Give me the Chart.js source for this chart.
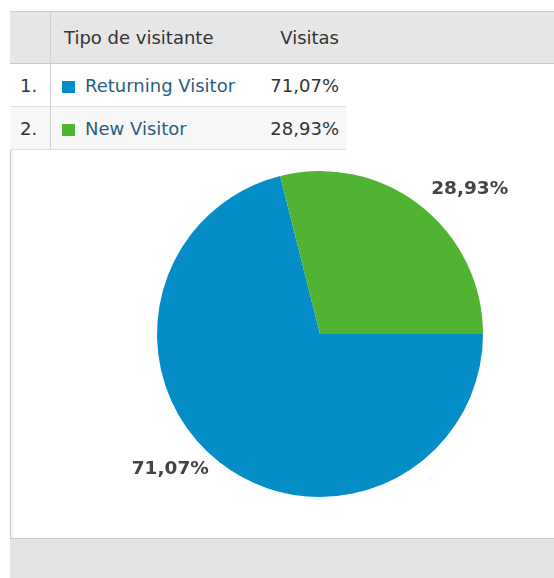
<!DOCTYPE html>
<html>
<head>
<meta charset="utf-8">
<script src="https://cdn.jsdelivr.net/npm/chart.js@4/dist/chart.umd.min.js"></script>
<style>
  html, body { margin: 0; padding: 0; background: #fff; }
  body { width: 554px; height: 578px; position: relative; overflow: hidden;
         font-family: "DejaVu Sans", Verdana, sans-serif; font-size: 18px; color: #333; }
  .abs { position: absolute; }
  .frame { left: 10px; top: 11px; width: 544px; height: 567px; border-left: 1px solid #c8c8c8; box-sizing: border-box; }
  .head { left: 10px; top: 11px; width: 544px; height: 53px; background: #e6e6e6;
          border-top: 1px solid #cfcfcf; border-bottom: 1px solid #c8c8c8; box-sizing: border-box; }
  .row { left: 10px; width: 336px; height: 43px; border-bottom: 1px solid #dedede; box-sizing: border-box; }
  .vdiv { left: 50px; top: 11px; width: 1px; height: 139px; background: #d0d0d0; }
  .cell { line-height: 20px; white-space: nowrap; }
  .swatch { width: 13px; height: 12px; }
  .link { color: #2b5d80; }
  .chartbox { left: 10px; top: 150px; width: 544px; height: 388px; }
  .foot { left: 10px; top: 538px; width: 544px; height: 40px; background: #e4e4e4; border-top: 1px solid #c6c6c6; box-sizing: border-box; }
  .shade { left: 11px; top: 150px; width: 4px; height: 388px; background: linear-gradient(to right, #f0f0f0, #fff); }
</style>
</head>
<body>
<div class="abs frame"></div>
<div class="abs head"></div>
<div class="abs row" id="row0" style="top:64px;background:#fff;"></div>
<div class="abs row" id="row1" style="top:107px;background:#f8f8f8;"></div>
<div class="abs vdiv"></div>
<div class="abs shade"></div>
<div class="abs chartbox"><canvas id="pie" width="544" height="388"></canvas></div>
<div class="abs foot"></div>
<div id="table"></div>
<script>
// Visitor types and their share of visits (percent)
const categories = ["Returning Visitor", "New Visitor"];
const shares = [71.07, 28.93];
const colors = ["#058dc7", "#50b432"];
const headers = ["Tipo de visitante", "Visitas"];

const fmt = v => v.toFixed(2).replace(".", ",") + "%";

// Table: header row and one row per visitor type
const table = document.getElementById("table");
function addText(txt, left, top, cls, extra) {
  const d = document.createElement("div");
  d.className = "abs cell " + (cls || "");
  d.style.left = left + "px";
  d.style.top = top + "px";
  if (extra) Object.assign(d.style, extra);
  d.textContent = txt;
  table.appendChild(d);
  return d;
}
addText(headers[0], 64, 28);
addText(headers[1], 200, 28, "", { width: "139px", textAlign: "right" });
categories.forEach((name, i) => {
  const top = 76 + i * 43;
  addText((i + 1) + ".", 20, top);
  const sw = document.createElement("div");
  sw.className = "abs swatch";
  sw.style.left = "62px";
  sw.style.top = (top + 5) + "px";
  sw.style.background = colors[i];
  table.appendChild(sw);
  addText(name, 85, top, "link");
  addText(fmt(shares[i]), 200, top, "", { width: "139px", textAlign: "right" });
});

// Percentage labels placed just outside each slice
const outsideLabels = {
  id: "outsideLabels",
  afterDatasetsDraw(chart) {
    const ctx = chart.ctx;
    const meta = chart.getDatasetMeta(0);
    ctx.save();
    ctx.font = "bold 18.5px 'DejaVu Sans', Verdana, sans-serif";
    ctx.fillStyle = "#444";
    meta.data.forEach((arc, i) => {
      const mid = (arc.startAngle + arc.endAngle) / 2;
      const dist = arc.outerRadius * 1.11;
      const x = arc.x + Math.cos(mid) * dist;
      const y = arc.y + Math.sin(mid) * dist;
      ctx.textAlign = Math.cos(mid) >= 0 ? "left" : "right";
      ctx.textBaseline = Math.sin(mid) > 0 ? "alphabetic" : "middle";
      ctx.fillText(fmt(chart.data.datasets[0].data[i]), x, y + (Math.sin(mid) > 0 ? -3 : -2));
    });
    ctx.restore();
  }
};

new Chart(document.getElementById("pie"), {
  type: "pie",
  data: {
    labels: categories,
    datasets: [{
      data: shares,
      backgroundColor: colors,
      borderWidth: 0
    }]
  },
  options: {
    responsive: false,
    animation: false,
    rotation: 90,
    layout: { padding: { left: 147, right: 71, top: 21, bottom: 41 } },
    plugins: {
      legend: { display: false },
      tooltip: { enabled: false }
    }
  },
  plugins: [outsideLabels]
});
</script>
</body>
</html>
